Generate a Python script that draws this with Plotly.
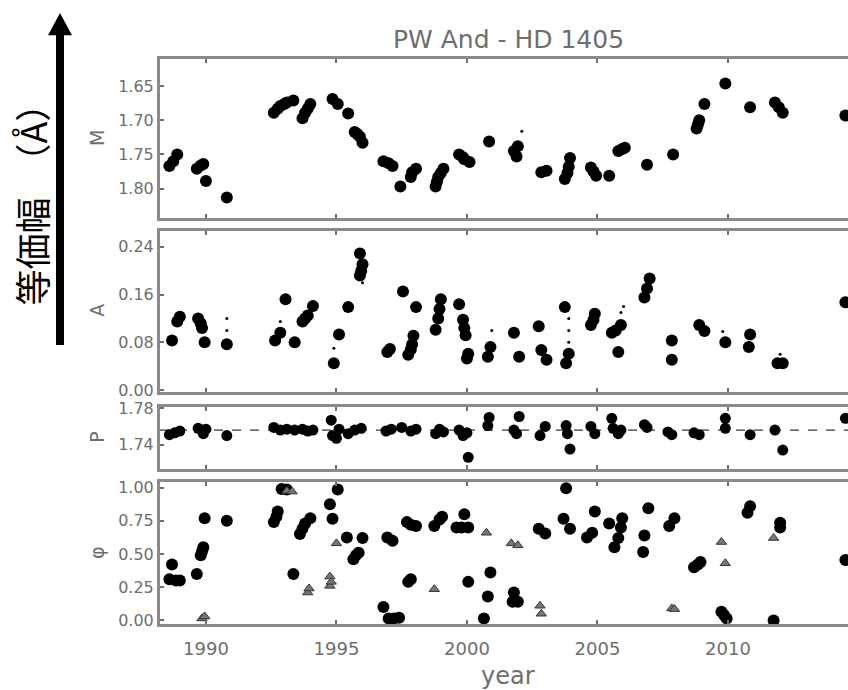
import plotly.graph_objects as go

# ---------------- data ----------------
M_year = [1988.6, 1988.75, 1988.9, 1989.65, 1989.8, 1989.9, 1990.0, 1990.8,
          1992.6, 1992.75, 1992.85, 1993.0, 1993.1, 1993.35, 1993.7, 1993.8, 1993.9, 1994.0,
          1994.85, 1995.05, 1995.45, 1995.7, 1995.8, 1995.9, 1996.0,
          1996.8, 1997.0, 1997.15, 1997.45, 1997.85, 1997.9, 1998.05,
          1998.8, 1998.85, 1998.9, 1999.0, 1999.1, 1999.7, 1999.85, 1999.9, 2000.1, 2000.85,
          2001.8, 2001.9, 2001.95, 2002.85, 2003.05, 2003.75, 2003.85, 2003.9, 2003.95,
          2004.75, 2004.85, 2004.95, 2005.45, 2005.8, 2005.95, 2006.05, 2006.9, 2007.9,
          2008.8, 2008.85, 2008.9, 2009.1, 2009.9, 2010.85, 2011.8, 2011.95, 2012.1, 2014.5]
M_val = [1.767, 1.76, 1.75, 1.771, 1.766, 1.764, 1.789, 1.813,
         1.689, 1.683, 1.679, 1.676, 1.674, 1.671, 1.697, 1.689, 1.683, 1.676,
         1.669, 1.676, 1.69, 1.717, 1.72, 1.724, 1.733,
         1.76, 1.763, 1.767, 1.797, 1.783, 1.776, 1.771,
         1.797, 1.79, 1.783, 1.777, 1.771, 1.75, 1.754, 1.757, 1.761, 1.731,
         1.745, 1.753, 1.738, 1.776, 1.774, 1.786, 1.777, 1.768, 1.755,
         1.769, 1.775, 1.781, 1.781, 1.745, 1.742, 1.74, 1.765, 1.75,
         1.712, 1.706, 1.70, 1.676, 1.646, 1.681, 1.674, 1.681, 1.689, 1.693]
M_small_year = [2002.1]
M_small_val = [1.716]

A_year = [1988.7, 1988.9, 1989.0, 1989.7, 1989.8, 1989.85, 1989.95, 1990.8,
          1992.65, 1992.85, 1993.05, 1993.4, 1993.7, 1993.8, 1993.9, 1994.1,
          1994.9, 1995.1, 1995.45, 1995.9, 1996.0, 1995.9, 1995.95,
          1996.95, 1997.05, 1997.55, 1997.75, 1997.85, 1997.9, 1997.95, 1998.05,
          1998.8, 1998.9, 1998.95, 1999.0, 1999.7, 1999.85, 1999.9, 1999.95, 2000.05, 2000.0,
          2000.8, 2000.9, 2001.8, 2002.0, 2002.75, 2002.85, 2003.05,
          2003.75, 2003.9, 2003.8, 2004.75, 2004.85, 2004.9,
          2005.55, 2005.7, 2005.9, 2005.8, 2006.8, 2006.9, 2007.0, 2007.85, 2007.85,
          2008.9, 2009.1, 2009.9, 2010.85, 2010.8, 2011.9, 2012.1, 2014.5]
A_val = [0.083, 0.115, 0.123, 0.12, 0.112, 0.104, 0.08, 0.077,
         0.083, 0.096, 0.152, 0.08, 0.115, 0.12, 0.125, 0.141,
         0.045, 0.093, 0.139, 0.229, 0.211, 0.192, 0.2,
         0.064, 0.069, 0.165, 0.059, 0.068, 0.077, 0.091, 0.139,
         0.101, 0.12, 0.136, 0.152, 0.144, 0.118, 0.104, 0.092, 0.061, 0.053,
         0.056, 0.072, 0.096, 0.056, 0.107, 0.067, 0.051,
         0.139, 0.061, 0.045, 0.109, 0.118, 0.128,
         0.096, 0.1, 0.109, 0.064, 0.155, 0.17, 0.187, 0.083, 0.051,
         0.109, 0.099, 0.08, 0.093, 0.072, 0.045, 0.045, 0.147]
A_small_year = [1990.8, 1990.8, 1992.85, 1994.9, 1996.0, 2000.95, 2003.9, 2003.9,
                2003.9, 2005.9, 2006.0, 2009.8, 2012.0]
A_small_val = [0.12, 0.1, 0.115, 0.07, 0.18, 0.1, 0.08, 0.1,
               0.12, 0.13, 0.14, 0.098, 0.06]

P_year = [1988.6, 1988.8, 1989.0, 1989.7, 1989.85, 1989.9, 1990.0, 1990.8,
          1992.6, 1992.85, 1993.1, 1993.4, 1993.7, 1993.9, 1994.1,
          1994.8, 1994.85, 1995.0, 1995.1, 1995.45, 1995.7, 1995.95,
          1996.9, 1997.1, 1997.5, 1997.85, 1998.05, 1998.8, 1998.95, 1999.1,
          1999.7, 1999.85, 2000.05, 2000.0, 2000.8, 2000.85,
          2001.8, 2002.0, 2001.9, 2002.8, 2003.0, 2003.8, 2003.95, 2003.85,
          2004.75, 2004.9, 2005.55, 2005.6, 2005.9, 2005.8, 2006.8, 2006.9,
          2007.85, 2007.7, 2008.9, 2008.7, 2009.9, 2009.9, 2010.85,
          2011.8, 2012.1, 2014.5]
P_val = [1.751, 1.753, 1.755, 1.758, 1.756, 1.752, 1.757, 1.750,
         1.759, 1.756, 1.757, 1.756, 1.757, 1.755, 1.756,
         1.767, 1.750, 1.747, 1.757, 1.752, 1.756, 1.758,
         1.755, 1.757, 1.759, 1.755, 1.757, 1.752, 1.757, 1.754,
         1.756, 1.750, 1.726, 1.753, 1.761, 1.770,
         1.756, 1.771, 1.752, 1.750, 1.760, 1.761, 1.735, 1.752,
         1.760, 1.752, 1.769, 1.758, 1.756, 1.752, 1.762, 1.759,
         1.751, 1.754, 1.751, 1.753, 1.769, 1.758, 1.751,
         1.756, 1.734, 1.769]
P_mean = 1.756

F_year = [1988.7, 1988.6, 1988.85, 1989.0, 1989.65, 1989.8, 1989.85, 1989.9, 1989.95, 1990.8,
          1992.6, 1992.7, 1992.75, 1992.9, 1993.1, 1993.35,
          1993.6, 1993.7, 1993.8, 1994.0, 1994.75, 1994.85, 1995.05, 1995.4,
          1995.65, 1995.75, 1995.85, 1996.0, 1996.8, 1996.95, 1997.15,
          1997.0, 1997.2, 1997.4, 1997.7, 1997.85, 1998.05, 1997.75, 1997.85,
          1998.75, 1998.95, 1999.05, 1999.6, 1999.8, 1999.9, 2000.05, 2000.05,
          2000.9, 2000.8, 2000.65, 2001.8, 2001.95, 2001.75,
          2002.75, 2003.0, 2003.8, 2003.7, 2003.95, 2004.6, 2004.8, 2004.9,
          2005.45, 2005.65, 2005.8, 2005.95, 2005.9, 2006.75, 2006.8, 2006.95,
          2007.75, 2007.95, 2008.7, 2008.85, 2008.95, 2009.75, 2009.85, 2009.95,
          2010.75, 2010.85, 2012.0, 2012.0, 2011.75, 2014.5]
F_val = [0.42, 0.31, 0.30, 0.30, 0.35, 0.49, 0.52, 0.55, 0.77, 0.75,
         0.74, 0.78, 0.82, 0.99, 0.985, 0.35,
         0.65, 0.69, 0.73, 0.77, 0.875, 0.765, 0.985, 0.625,
         0.46, 0.49, 0.51, 0.62, 0.10, 0.625, 0.60,
         0.015, 0.015, 0.02, 0.74, 0.72, 0.71, 0.29, 0.31,
         0.71, 0.76, 0.78, 0.70, 0.70, 0.80, 0.70, 0.29,
         0.36, 0.18, 0.015, 0.21, 0.14, 0.14,
         0.69, 0.655, 0.995, 0.765, 0.69, 0.625, 0.66, 0.82,
         0.73, 0.55, 0.62, 0.77, 0.70, 0.515, 0.64, 0.845,
         0.71, 0.77, 0.40, 0.42, 0.44, 0.065, 0.04, 0.015,
         0.81, 0.86, 0.735, 0.70, 0.0, 0.455]
F_tri_year = [1989.85, 1989.95, 1993.1, 1993.3, 1993.9, 1993.95, 1995.0,
              1994.75, 1994.75, 1994.8, 1998.75, 2000.75, 2001.7, 2001.95,
              2002.8, 2002.85, 2007.85, 2007.95, 2009.75, 2009.9, 2011.75]
F_tri_val = [0.015, 0.03, 0.975, 0.97, 0.21, 0.24, 0.58,
             0.33, 0.26, 0.29, 0.235, 0.66, 0.58, 0.565,
             0.11, 0.05, 0.09, 0.085, 0.59, 0.43, 0.62]

year_ticks = [1990, 1995, 2000, 2005, 2010]
M_ticks = [1.65, 1.70, 1.75, 1.80]
A_ticks = [0.00, 0.08, 0.16, 0.24]
P_ticks = [1.74, 1.78]
F_ticks = [0.00, 0.25, 0.50, 0.75, 1.00]

# ---------------- layout geometry ----------------
W, H = 848, 690
def ydom(top, bot):
    return [1 - bot / H, 1 - top / H]

xdom = [160 / W, 1.0]
xr = [1988.24, 2014.6]
grey = "#6e6e6e"
frame = "#8a8a8a"
tickfont = dict(family="DejaVu Sans", size=16, color=grey)

fig = go.Figure()

def circles(x, y, xa, ya, size=12):
    fig.add_trace(go.Scatter(x=x, y=y, mode="markers", xaxis=xa, yaxis=ya,
                             marker=dict(color="black", size=size, symbol="circle"),
                             showlegend=False, hoverinfo="skip"))

# P mean line
fig.add_trace(go.Scatter(x=xr, y=[P_mean, P_mean], mode="lines", xaxis="x3", yaxis="y3",
                         line=dict(color="black", width=1, dash="dash"),
                         showlegend=False, hoverinfo="skip"))

circles(M_year, M_val, "x", "y")
circles(M_small_year, M_small_val, "x", "y", size=3)
circles(A_year, A_val, "x2", "y2")
circles(A_small_year, A_small_val, "x2", "y2", size=3)
circles(P_year, P_val, "x3", "y3", size=11)
circles(F_year, F_val, "x4", "y4")
fig.add_trace(go.Scatter(x=F_tri_year, y=F_tri_val, mode="markers", xaxis="x4", yaxis="y4",
                         marker=dict(color="#777777", size=9, symbol="triangle-up",
                                     line=dict(color="#333333", width=1)),
                         showlegend=False, hoverinfo="skip"))

def xaxis(anchor, labels):
    return dict(domain=xdom, range=xr, anchor=anchor, showline=True, mirror="ticks",
                linecolor=frame, linewidth=3, ticks="inside", ticklen=4, tickwidth=1.5,
                tickcolor=grey, tickvals=year_ticks, ticklabelstandoff=6,
                showticklabels=labels, tickfont=dict(family="DejaVu Sans", size=18, color=grey),
                showgrid=False, zeroline=False)

def yaxis(anchor, dom, rng, ticks, fmt):
    return dict(domain=dom, range=rng, anchor=anchor, showline=True, mirror=False,
                linecolor=frame, linewidth=3, ticks="inside", ticklen=4, tickwidth=1.5,
                tickcolor=grey, tickvals=ticks, ticktext=[fmt.format(t) for t in ticks],
                tickfont=tickfont, showgrid=False, zeroline=False)

fig.update_layout(
    width=W, height=H, margin=dict(l=0, r=0, t=0, b=0),
    plot_bgcolor="white", paper_bgcolor="white",
    xaxis=xaxis("y", False), xaxis2=xaxis("y2", False),
    xaxis3=xaxis("y3", False), xaxis4=xaxis("y4", True),
    yaxis=yaxis("x", ydom(52, 215), [1.843, 1.61], M_ticks, "{:.2f}"),
    yaxis2=yaxis("x2", ydom(228, 393), [-0.003, 0.267], A_ticks, "{:.2f}"),
    yaxis3=yaxis("x3", ydom(408, 472), [1.713, 1.782], P_ticks, "{:.2f}"),
    yaxis4=yaxis("x4", ydom(485, 631), [-0.03, 1.044], F_ticks, "{:.2f}"),
)
fig.update_xaxes(matches="x")

ann = []
def label(text, x, y, size, color=grey, angle=0, family="DejaVu Sans"):
    ann.append(dict(text=text, x=x / W, y=1 - y / H, xref="paper", yref="paper",
                    showarrow=False, textangle=angle, xanchor="center", yanchor="middle",
                    font=dict(family=family, size=size, color=color)))

label("PW And - HD 1405", 508, 32, 25)
label("M", 97, 133, 19, angle=-90)
label("A", 97, 310, 19, angle=-90)
label("P", 97, 440, 19, angle=-90)
label("φ", 97, 558, 19, angle=-90)
label("year", 508, 684, 24)
label("等価幅\u2002（Å）", 31, 192, 36, color="black", angle=-90, family="Noto Sans CJK JP")
fig.update_layout(annotations=ann)

# big arrow on the left
fig.add_shape(type="line", xref="paper", yref="paper", x0=60 / W, x1=60 / W,
              y0=1 - 345 / H, y1=1 - 26 / H, line=dict(color="black", width=8))
fig.add_shape(type="path", xref="paper", yref="paper",
              path=f"M {48/W},{1-28/H} L {72/W},{1-28/H} L {60/W},{1-5/H} Z",
              fillcolor="black", line=dict(color="black", width=0))

fig.write_html("out.html")
